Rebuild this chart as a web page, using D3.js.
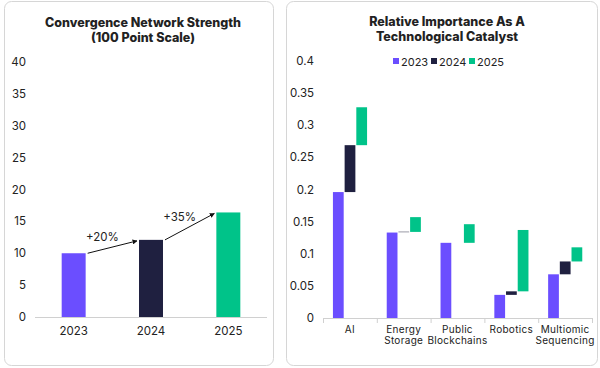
<!DOCTYPE html>
<html lang="en">
<head>
    <meta charset="UTF-8">
    <title>Convergence Network Strength</title>
    <style>
        body {
            margin: 0;
            background: #fff;
            font-family: Inter, "Noto Sans", sans-serif;
        }
        svg text {
            fill: #222;
        }
    </style>
</head>
<body>
    <svg id="chart" width="600" height="368"></svg>

    <script src="https://d3js.org/d3.v7.min.js"></script>
    <script>
        // Left panel data
        const years = ["2023", "2024", "2025"];
        const strength = [10.0, 12.1, 16.4];
        const growthLabels = ["+20%", "+35%"];
        const leftTicks = [0, 5, 10, 15, 20, 25, 30, 35, 40];

        // Right panel data (cumulative value per year)
        const techs = [["AI"], ["Energy", "Storage"], ["Public", "Blockchains"], ["Robotics"], ["Multiomic", "Sequencing"]];
        const v2023 = [0.196, 0.133, 0.117, 0.036, 0.068];
        const v2024 = [0.269, 0.134, 0.117, 0.0415, 0.088];
        const v2025 = [0.328, 0.157, 0.146, 0.137, 0.110];
        const rightTicks = [0, 0.05, 0.1, 0.15, 0.2, 0.25, 0.3, 0.35, 0.4];

        const colors = { "2023": "#6B4EFF", "2024": "#1F2040", "2025": "#00C389" };

        const svg = d3.select("#chart");

        // cards
        svg.append("rect").attr("x", 4.5).attr("y", 1.5).attr("width", 269).attr("height", 364)
            .attr("rx", 7).attr("fill", "#fff").attr("stroke", "#d6d6d6");
        svg.append("rect").attr("x", 286.5).attr("y", 1.5).attr("width", 311).attr("height", 364)
            .attr("rx", 7).attr("fill", "#fff").attr("stroke", "#d6d6d6");

        // ---------- left chart ----------
        const left = svg.append("g");
        left.append("text").attr("x", 143).attr("y", 27).attr("text-anchor", "middle")
            .attr("font-size", 12.5).attr("font-weight", 800).text("Convergence Network Strength");
        left.append("text").attr("x", 143).attr("y", 42).attr("text-anchor", "middle")
            .attr("font-size", 12.5).attr("font-weight", 800).text("(100 Point Scale)");

        const xL = d3.scaleBand().domain(years).range([35, 267]).paddingInner(0.69).paddingOuter(0.345);
        const yL = d3.scaleLinear().domain([0, 40]).range([317, 62]);

        left.selectAll(".ytl").data(leftTicks).enter().append("text")
            .attr("x", 26).attr("y", d => yL(d) + 4).attr("text-anchor", "end")
            .attr("font-size", 11.5).text(d => d);

        left.append("line").attr("x1", 35).attr("x2", 267).attr("y1", 317.5).attr("y2", 317.5)
            .attr("stroke", "#d0d0d0");

        left.selectAll(".bar").data(years).enter().append("rect")
            .attr("x", d => xL(d)).attr("width", xL.bandwidth())
            .attr("y", (d, i) => yL(strength[i])).attr("height", (d, i) => yL(0) - yL(strength[i]))
            .attr("fill", d => colors[d]);

        left.selectAll(".xl").data(years).enter().append("text")
            .attr("x", d => xL(d) + xL.bandwidth() / 2).attr("y", 335).attr("text-anchor", "middle")
            .attr("font-size", 11.5).text(d => d);

        svg.append("defs").append("marker").attr("id", "arrow")
            .attr("viewBox", "0 0 10 10").attr("refX", 9).attr("refY", 5)
            .attr("markerWidth", 5).attr("markerHeight", 5).attr("orient", "auto")
            .append("path").attr("d", "M0,0L10,5L0,10Z").attr("fill", "#111");

        growthLabels.forEach((lab, i) => {
            const x1 = xL(years[i]) + xL.bandwidth() + 2, y1 = yL(strength[i]);
            const x2 = xL(years[i + 1]) - 2, y2 = yL(strength[i + 1]) + 1;
            left.append("line").attr("x1", x1).attr("y1", y1).attr("x2", x2).attr("y2", y2)
                .attr("stroke", "#111").attr("stroke-width", 1).attr("marker-end", "url(#arrow)");
            left.append("text").attr("x", (x1 + x2) / 2 - 10).attr("y", (y1 + y2) / 2 - 6)
                .attr("text-anchor", "middle").attr("font-size", 11.5).text(lab);
        });

        // ---------- right chart ----------
        const right = svg.append("g");
        right.append("text").attr("x", 447).attr("y", 26).attr("text-anchor", "middle")
            .attr("font-size", 12.5).attr("font-weight", 800).text("Relative Importance As A");
        right.append("text").attr("x", 447).attr("y", 41).attr("text-anchor", "middle")
            .attr("font-size", 12.5).attr("font-weight", 800).text("Technological Catalyst");

        const xR = d3.scaleBand().domain(d3.range(techs.length)).range([323, 592]);
        const xY = d3.scaleBand().domain(years).range([9, 45]).padding(0.08);
        const yR = d3.scaleLinear().domain([0, 0.4]).range([318, 61]);

        right.selectAll(".ytr").data(rightTicks).enter().append("text")
            .attr("x", 314).attr("y", d => yR(d) + 4).attr("text-anchor", "end")
            .attr("font-size", 11.5).text(d => d);

        right.append("line").attr("x1", 323).attr("x2", 592).attr("y1", 318.5).attr("y2", 318.5)
            .attr("stroke", "#d0d0d0");
        const bounds = d3.range(techs.length).map(i => xR(i)).concat([592]);
        right.selectAll(".sep").data(bounds).enter().append("line")
            .attr("x1", d => d + 0.5).attr("x2", d => d + 0.5).attr("y1", 318).attr("y2", 323)
            .attr("stroke", "#d0d0d0");

        // legend
        const legendX = [393, 431, 469];
        years.forEach((yr, i) => {
            right.append("rect").attr("x", legendX[i]).attr("y", 58).attr("width", 6).attr("height", 6)
                .attr("fill", colors[yr]);
            right.append("text").attr("x", legendX[i] + 8).attr("y", 65.5).attr("font-size", 11).text(yr);
        });

        const series = [v2023, v2024, v2025];
        techs.forEach((t, ci) => {
            const g = right.append("g").attr("transform", `translate(${xR(ci)},0)`);
            years.forEach((yr, si) => {
                const from = si === 0 ? 0 : series[si - 1][ci];
                const to = series[si][ci];
                const top = yR(Math.max(from, to)), bot = yR(Math.min(from, to));
                const h = bot - top;
                if (h <= 0.2) return;
                g.append("rect").attr("x", xY(yr)).attr("width", xY.bandwidth())
                    .attr("y", h < 1 ? top - 0.5 : top).attr("height", Math.max(h, 1))
                    .attr("fill", h < 1.5 ? "#9a9aa6" : colors[yr]);
            });
            t.forEach((line, li) => {
                g.append("text").attr("x", xR.bandwidth() / 2).attr("y", 333 + li * 10.5)
                    .attr("text-anchor", "middle").attr("font-size", 10).attr("letter-spacing", 0.3)
                    .attr("fill", "#333").text(line);
            });
        });
    </script>
</body>
</html>
